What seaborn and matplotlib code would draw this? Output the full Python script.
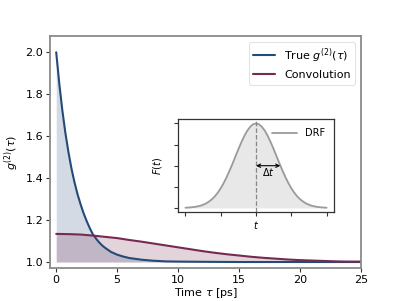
import numpy as np
import pandas as pd
import matplotlib
matplotlib.use("Agg")
import matplotlib.pyplot as plt
import seaborn as sns

# true g2
tau_true = [0, 0.25, 0.5, 0.75, 1.0, 1.25, 1.5, 1.75, 2.0, 2.25, 2.5, 2.75, 3.0, 3.25, 3.5,
            3.75, 4.0, 4.5, 5.0, 5.5, 6.0, 7.0, 8.0, 9.0, 10.0, 12.0, 15.0, 20.0, 25.0]
g2_true  = [2.000, 1.851, 1.724, 1.616, 1.525, 1.446, 1.380, 1.323, 1.275, 1.232, 1.195,
            1.162, 1.133, 1.113, 1.095, 1.080, 1.068, 1.048, 1.035, 1.026, 1.019, 1.011,
            1.006, 1.003, 1.002, 1.001, 1.000, 1.000, 1.000]

# convolved g2
tau_conv = list(range(0, 26))
g2_conv  = [1.134, 1.133, 1.131, 1.126, 1.120, 1.114, 1.105, 1.097, 1.088, 1.079, 1.070,
            1.061, 1.052, 1.044, 1.037, 1.031, 1.025, 1.020, 1.016, 1.012, 1.009, 1.007,
            1.005, 1.003, 1.002, 1.002]

# detector response function (inset)
t_drf = [-3.0, -2.875, -2.75, -2.625, -2.5, -2.375, -2.25, -2.125, -2.0, -1.875, -1.75,
         -1.625, -1.5, -1.375, -1.25, -1.125, -1.0, -0.875, -0.75, -0.625, -0.5, -0.375,
         -0.25, -0.125, 0.0, 0.125, 0.25, 0.375, 0.5, 0.625, 0.75, 0.875, 1.0, 1.125, 1.25,
         1.375, 1.5, 1.625, 1.75, 1.875, 2.0, 2.125, 2.25, 2.375, 2.5, 2.625, 2.75, 2.875, 3.0]
f_drf = [0.003, 0.005, 0.008, 0.012, 0.018, 0.026, 0.038, 0.054, 0.076, 0.103, 0.138,
         0.182, 0.234, 0.295, 0.365, 0.442, 0.524, 0.610, 0.696, 0.777, 0.851, 0.913,
         0.960, 0.990, 1.000, 0.990, 0.960, 0.913, 0.851, 0.777, 0.696, 0.610, 0.524,
         0.442, 0.365, 0.295, 0.234, 0.182, 0.138, 0.103, 0.076, 0.054, 0.038, 0.026,
         0.018, 0.012, 0.008, 0.005, 0.003]
drf_hwhm = 1.03

BLUE   = "#244a78"
MAROON = "#762a50"
GRAY   = "#9a9a9a"

sns.set_style("ticks")
plt.rcParams["font.family"] = ["DejaVu Sans"]
plt.rcParams["text.color"] = "black"
plt.rcParams["axes.labelcolor"] = "black"
plt.rcParams["xtick.color"] = "black"
plt.rcParams["ytick.color"] = "black"

df_true = pd.DataFrame({"tau": tau_true, "g2": g2_true})
df_conv = pd.DataFrame({"tau": tau_conv, "g2": g2_conv})
df_drf  = pd.DataFrame({"t": t_drf, "F": f_drf})

fig, ax = plt.subplots(figsize=(4.01, 3.01), dpi=100)
fig.subplots_adjust(left=0.125, right=0.9, bottom=0.11, top=0.88)

sns.lineplot(data=df_true, x="tau", y="g2", ax=ax, color=BLUE, lw=1.5,
             label=r"True $g^{(2)}(\tau)$")
sns.lineplot(data=df_conv, x="tau", y="g2", ax=ax, color=MAROON, lw=1.5,
             label="Convolution")
ax.fill_between(tau_true, 1, g2_true, color=BLUE, alpha=0.2, lw=0)
ax.fill_between(tau_conv, 1, g2_conv, color=MAROON, alpha=0.2, lw=0)

ax.set_xlim(-0.5, 25)
ax.set_ylim(0.972, 2.077)
ax.set_xticks([0, 5, 10, 15, 20, 25])
ax.set_yticks([1.0, 1.2, 1.4, 1.6, 1.8, 2.0])
ax.set_xlabel(r"Time $\tau$ [ps]", fontsize=8, labelpad=1)
ax.set_ylabel(r"$g^{(2)}(\tau)$", fontsize=8, labelpad=3)
ax.tick_params(labelsize=8, length=3, width=0.8, color="#333333", pad=2)
for s in ax.spines.values():
    s.set_color("#8a8a8a")
    s.set_linewidth(1.3)
leg = ax.legend(loc="upper right", fontsize=8, frameon=True, borderaxespad=0.5,
                handlelength=2.0)
leg.get_frame().set_edgecolor("#dddddd")
leg.get_frame().set_linewidth(0.8)

# inset with the DRF
axin = fig.add_axes([0.445, 0.295, 0.387, 0.309])
sns.lineplot(data=df_drf, x="t", y="F", ax=axin, color=GRAY, lw=1.3, label="DRF")
axin.fill_between(t_drf, 0, f_drf, color="#e8e8e8", lw=0)
axin.axvline(0, color="#888888", ls="--", lw=0.9)
axin.annotate("", xy=(drf_hwhm, 0.5), xytext=(0, 0.5),
              arrowprops=dict(arrowstyle="<->", color="black", lw=0.8,
                              shrinkA=0, shrinkB=0, mutation_scale=6))
axin.text(drf_hwhm / 2, 0.43, r"$\Delta t$", fontsize=7, ha="center", va="center")
axin.set_xticks([-3, -1.5, 0, 1.5, 3])
axin.set_yticks([0, 0.25, 0.5, 0.75, 1.0])
axin.set_xticklabels([])
axin.set_yticklabels([])
axin.set_xlabel("")
axin.text(0, -0.2, r"$t$", fontsize=7, ha="center", va="center",
          transform=axin.transData)
axin.set_ylabel(r"$F(t)$", fontsize=7, labelpad=4)
axin.tick_params(length=3, width=0.8, color="#333333")
for s in axin.spines.values():
    s.set_color("#333333")
    s.set_linewidth(0.9)
axin.legend(loc="upper right", fontsize=7, frameon=False, handlelength=2.6)

fig.savefig("out.png", dpi=100)
